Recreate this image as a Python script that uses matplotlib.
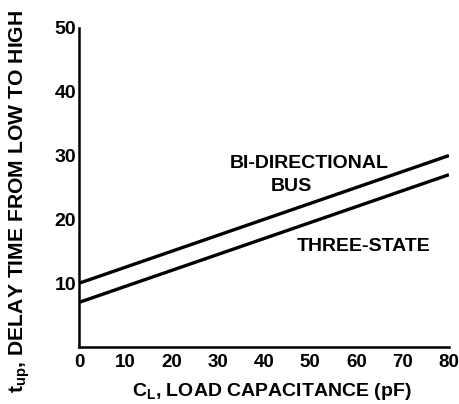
import matplotlib
matplotlib.use("Agg")
import matplotlib.pyplot as plt
import numpy as np

plt.rcParams['font.family'] = ['Liberation Sans', 'DejaVu Sans']
plt.rcParams['mathtext.fontset'] = 'custom'
plt.rcParams['mathtext.rm'] = 'Liberation Sans:bold'
plt.rcParams['mathtext.it'] = 'Liberation Sans:bold'

# load capacitance (pF) and delay time low->high (ns)
cap = [0, 80]
bidir_delay = [10, 30]
three_state_delay = [7, 27]

x_ticks = [0, 10, 20, 30, 40, 50, 60, 70, 80]
y_ticks = [10, 20, 30, 40, 50]

fig = plt.figure(figsize=(4.6, 4.04), dpi=100)
ax = fig.add_axes([0.172, 0.141, 0.804, 0.79])

ax.plot(cap, bidir_delay, color='black', lw=2.4, solid_capstyle='butt')
ax.plot(cap, three_state_delay, color='black', lw=2.4, solid_capstyle='butt')

ax.set_xlim(0, 80)
ax.set_ylim(0, 50)
ax.spines['top'].set_visible(False)
ax.spines['right'].set_visible(False)
ax.spines['left'].set_linewidth(1.8)
ax.spines['bottom'].set_linewidth(1.8)

ax.set_xticks(x_ticks)
ax.set_yticks(y_ticks)
ax.set_xticklabels([str(t) for t in x_ticks], fontsize=13.5, fontweight='bold')
ax.set_yticklabels([str(t) for t in y_ticks], fontsize=14, fontweight='bold')
ax.tick_params(length=0, pad=2)
ax.tick_params(axis='x', pad=5)

ax.set_xlabel(r'$\mathrm{C_L}$, LOAD CAPACITANCE (pF)', fontsize=14, fontweight='bold')
ax.set_ylabel(r'$\mathrm{t_{up}}$, DELAY TIME FROM LOW TO HIGH', fontsize=15.2, fontweight='bold')
ax.xaxis.set_label_coords(0.52, -0.105)
ax.yaxis.set_label_coords(-0.128, 0.455)

ax.text(49.7, 28.8, 'BI-DIRECTIONAL', fontsize=14, fontweight='bold', ha='center', va='center')
ax.text(46, 25.1, 'BUS', fontsize=14, fontweight='bold', ha='center', va='center')
ax.text(61.5, 15.7, 'THREE-STATE', fontsize=14, fontweight='bold', ha='center', va='center')

fig.savefig("out.png", dpi=100)
